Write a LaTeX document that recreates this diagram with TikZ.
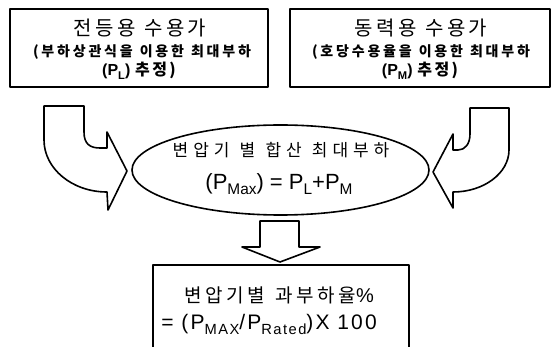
\documentclass[tikz,border=0pt]{standalone}
\usepackage{fontspec}
\usetikzlibrary{shapes.geometric}
\setmainfont{Liberation Sans}
\newfontfamily\kr{Noto Sans CJK KR}
\newcommand\lsub[1]{\raisebox{-0.45ex}{\scalebox{0.7}{#1}}}
\newcommand\fsz[1]{\fontsize{#1}{#1}\selectfont}
\newcommand\K[2]{{\kr\addfontfeature{LetterSpace=#1}#2}}
\newcommand\gap[1]{\hspace{#1em}}
\begin{document}
\begin{tikzpicture}[x=1pt,y=-1pt,line join=round,
  frame/.style={draw,line width=1.6pt,inner sep=0pt},
  blockarrow/.style={draw,line width=1.6pt,fill=white},
  txt/.style={inner sep=0pt,anchor=center}]
\useasboundingbox (0,0) rectangle (553,347);
% boxes
\node[frame,minimum width=258pt,minimum height=78pt] (lbox) at (139,48) {};
\node[frame,minimum width=260pt,minimum height=78pt] (rbox) at (420,48) {};
\node[frame,ellipse,minimum width=297pt,minimum height=90pt] (ell) at (280.5,170) {};
\node[frame,minimum width=256pt,minimum height=87pt] (bbox) at (281,308.5) {};
% left bent arrow
\draw[blockarrow] (44,106) -- (84,106) -- (84,132)
  .. controls (84,144) and (90,148) .. (100,148) -- (107,148) -- (107,132)
  -- (127,171) -- (108,210) -- (107,192)
  .. controls (72.2,192) and (44,168.7) .. (44,140) -- cycle;
% right bent arrow
\draw[blockarrow] (509,108) -- (470,108) -- (470,134)
  .. controls (470,144) and (465,150) .. (458,150) -- (453,150) -- (453,134)
  -- (433,172) -- (453,208) -- (453,192)
  .. controls (484,192) and (509,173) .. (509,150) -- cycle;
% down arrow
\draw[blockarrow] (260,221) -- (299,221) -- (299,247) -- (320,247)
  -- (280,262) -- (242,247) -- (260,247) -- cycle;
% texts
\node[txt,font=\fsz{20}] (l1) at (140,28) {\K{16}{전등용}\gap{0.45}\K{16}{수용가}};
\node[txt,font=\bfseries\fsz{14}] (l2) at (142,52) {\K{20}{(부하상관식을}\gap{0.5}\K{20}{이용한}\gap{0.5}\K{20}{최대부하}};
\node[txt,font=\bfseries\fsz{16}] (l3) at (139,71) {(P\lsub{L})\gap{0.3}\K{15}{추정)}};
\node[txt,font=\fsz{20}] (r1) at (421,28) {\K{16}{동력용}\gap{0.45}\K{16}{수용가}};
\node[txt,font=\bfseries\fsz{14}] (r2) at (421,52) {\K{20}{(호당수용율을}\gap{0.5}\K{20}{이용한}\gap{0.5}\K{20}{최대부하}};
\node[txt,font=\bfseries\fsz{16}] (r3) at (420,71) {(P\lsub{M})\gap{0.3}\K{15}{추정)}};
\node[txt,font=\fsz{17}] (e1) at (281,150) {\K{29}{변압기}\gap{0.6}\K{29}{별}\gap{0.6}\K{29}{합산}\gap{0.6}\K{29}{최대부하}};
\node[txt,font=\fsz{22}] (e2) at (279,184) {(P\lsub{Max}) = P\lsub{L}+P\lsub{M}};
\node[txt,font=\fsz{19}] (b1) at (279,295) {\K{19}{변압기별}\gap{0.55}\K{19}{과부하율}{\fsz{20}\%}};
\node[txt,font=\fsz{21}\addfontfeature{LetterSpace=10}] (b2) at (269,324) {= (P\lsub{MAX}/P\lsub{Rated})X 100};
\end{tikzpicture}
\end{document}
